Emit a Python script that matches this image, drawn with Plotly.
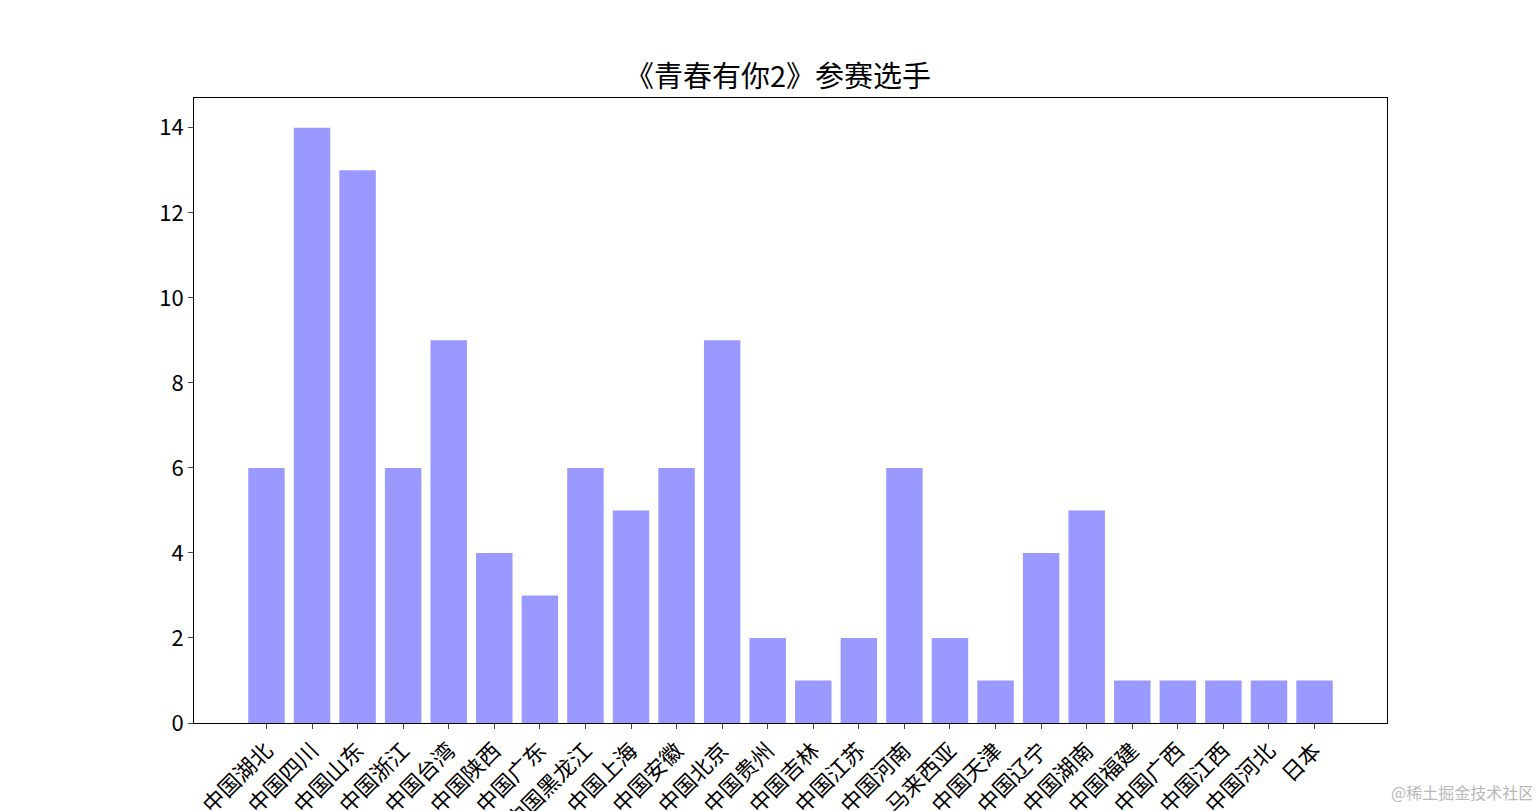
import plotly.graph_objects as go

regions = ["中国湖北", "中国四川", "中国山东", "中国浙江", "中国台湾", "中国陕西", "中国广东",
           "中国黑龙江", "中国上海", "中国安徽", "中国北京", "中国贵州", "中国吉林", "中国江苏",
           "中国河南", "马来西亚", "中国天津", "中国辽宁", "中国湖南", "中国福建", "中国广西",
           "中国江西", "中国河北", "日本"]
counts = [6, 14, 13, 6, 9, 4, 3, 6, 5, 6, 9, 2, 1, 2, 6, 2, 1, 4, 5, 1, 1, 1, 1, 1]

FONT = "Noto Sans CJK SC"

fig = go.Figure(go.Bar(x=list(range(len(regions))), y=counts, width=0.8,
                       marker=dict(color="#9999ff", line=dict(width=0))))

fig.update_layout(
    width=1540, height=811,
    paper_bgcolor="white", plot_bgcolor="white",
    margin=dict(l=186, r=161, t=90, b=96, autoexpand=False),
    font=dict(family=FONT, size=22, color="black"),
    title=dict(text="《青春有你2》参赛选手", x=0.5, xanchor="center", y=0.915, yanchor="middle",
               font=dict(size=29)),
    showlegend=False,
    annotations=[dict(text="@稀土掘金技术社区", xref="paper", yref="paper", x=1.125, y=-0.11,
                      xanchor="right", yanchor="middle", showarrow=False,
                      font=dict(size=16, color="#b8b8b8"))],
)
fig.update_xaxes(range=[-1.59, 24.59], tickmode="array", tickvals=list(range(len(regions))),
                 ticktext=regions, tickangle=-45, ticks="outside", ticklen=5,
                 showline=True, mirror=True, linecolor="black", showgrid=False, zeroline=False)
fig.update_yaxes(range=[0, 14.7], dtick=2, ticks="outside", ticklen=5,
                 showline=True, mirror=True, linecolor="black", showgrid=False, zeroline=False)

fig.write_html("out.html")
